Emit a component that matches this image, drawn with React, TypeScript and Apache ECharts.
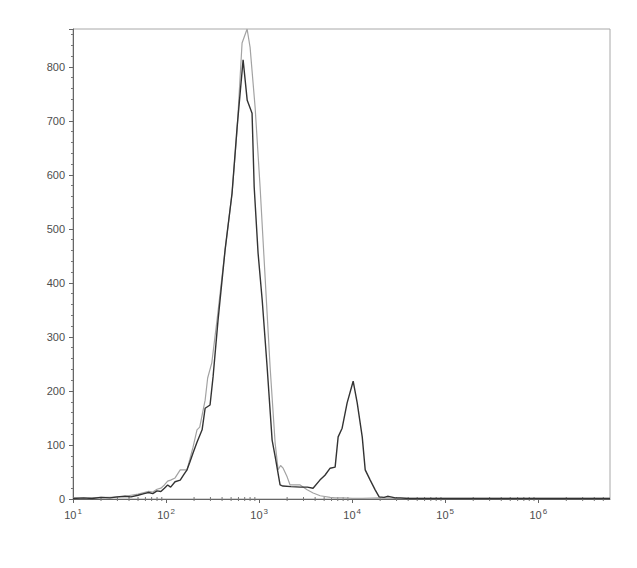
import React, { useEffect, useRef } from "react";
import * as echarts from "echarts";

// Black histogram (sample): [fluorescence, count]
const blackX = [10, 13, 16, 20, 25, 30, 36, 42, 50, 58, 65, 72, 80, 88, 96, 104, 112, 125, 142, 155, 168, 180, 195, 215, 244, 263, 297, 320, 362, 431, 512, 580, 673, 745, 840, 885, 975, 1080, 1220, 1380, 1490, 1680, 1800, 2200, 2800, 3300, 3800, 4500, 5100, 5800, 6560, 7070, 7800, 8830, 10250, 11330, 12830, 13810, 15630, 17670, 19500, 22000, 24000, 26000, 29000, 33000, 40000, 60000, 100000, 300000, 1000000, 3000000, 5900000];
const blackY = [1, 2, 1, 3, 2, 4, 5, 4, 7, 10, 12, 10, 15, 14, 20, 26, 22, 32, 35, 45, 54, 68, 85, 105, 128, 168, 174, 226, 331, 461, 566, 688, 813, 738, 714, 578, 455, 368, 244, 109, 78, 26, 24, 23, 22, 22, 20, 35, 44, 57, 59, 115, 131, 178, 218, 178, 115, 54, 35, 17, 4, 3, 5, 4, 2, 2, 1, 1, 1, 1, 1, 1, 1];

// Gray histogram (control)
const grayX = [10, 13, 16, 20, 25, 30, 36, 42, 50, 58, 65, 72, 80, 88, 96, 104, 112, 125, 142, 168, 195, 215, 230, 263, 280, 310, 353, 431, 512, 580, 656, 743, 800, 906, 1025, 1219, 1313, 1486, 1601, 1700, 1812, 2000, 2153, 2760, 3283, 3808, 4530, 5800, 6560, 8000, 10000, 13000, 20000, 30000, 100000, 1000000, 5900000];
const grayY = [2, 1, 2, 3, 3, 4, 5, 7, 9, 12, 14, 13, 18, 20, 26, 33, 35, 39, 54, 54, 96, 128, 133, 183, 224, 252, 331, 461, 566, 683, 844, 870, 836, 725, 577, 344, 244, 104, 54, 62, 57, 41, 26, 26, 17, 11, 6, 3, 2, 2, 1, 1, 2, 1, 1, 1, 1];

const xMin = 10;
const xMax = 5900000;
const yMax = 870;
const decades = [1, 2, 3, 4, 5, 6];
const minorMultipliers = [2, 3, 4, 5, 6, 7, 8, 9];

export default function App() {
  const ref = useRef<HTMLDivElement>(null);
  useEffect(() => {
    if (!ref.current) return;
    const chart = echarts.init(ref.current, null, { renderer: "svg" });
    const minorTicks: number[][] = [];
    decades.forEach((d) => {
      minorMultipliers.forEach((m) => {
        const v = m * Math.pow(10, d);
        if (v < xMax) minorTicks.push([v, 0]);
      });
    });
    const font = "Liberation Sans, Arial, sans-serif";
    const txt = "#4d4d4d";
    chart.setOption({
      animation: false,
      backgroundColor: "#fff",
      grid: {
        left: 73,
        right: 27,
        top: 29,
        bottom: 69,
        show: true,
        borderColor: "#a8a8a8",
        borderWidth: 1,
        backgroundColor: "transparent",
      },
      xAxis: {
        type: "log",
        logBase: 10,
        min: xMin,
        max: xMax,
        axisLine: { lineStyle: { color: "#666", width: 1 } },
        axisTick: { show: true, length: 4, lineStyle: { color: "#666" } },
        splitLine: { show: false },
        axisLabel: {
          showMaxLabel: false,
          margin: 8,
          color: txt,
          fontFamily: font,
          formatter: (v: number) => {
            const e = Math.log10(v);
            if (Math.abs(e - Math.round(e)) > 1e-6) return "";
            return `{b|10}{s|${Math.round(e)}}`;
          },
          rich: {
            b: { fontSize: 11, color: txt, fontFamily: font },
            s: { fontSize: 8, color: txt, fontFamily: font, padding: [0, 0, 8, 1] },
          },
        },
      },
      yAxis: {
        type: "value",
        min: 0,
        max: yMax,
        interval: 100,
        axisLine: { show: true, lineStyle: { color: "#666", width: 1 } },
        axisTick: { show: true, length: 4, lineStyle: { color: "#666" } },
        minorTick: { show: true, splitNumber: 5, length: 2, lineStyle: { color: "#777" } },
        splitLine: { show: false },
        axisLabel: { showMaxLabel: false, color: txt, fontSize: 11, fontFamily: font, margin: 8 },
      },
      series: [
        {
          type: "custom",
          silent: true,
          clip: false,
          data: minorTicks,
          encode: { x: 0, y: 1 },
          renderItem: (params: any, api: any) => {
            const p = api.coord([api.value(0), 0]);
            return {
              type: "line",
              shape: { x1: p[0], y1: p[1] - 2, x2: p[0], y2: p[1] + 2 },
              style: { stroke: "#777", lineWidth: 1 },
            };
          },
          z: 1,
        },
        {
          type: "line",
          data: grayX.map((x, i) => [x, grayY[i]]),
          showSymbol: false,
          lineStyle: { color: "#a3a3a3", width: 1.2 },
          z: 2,
        },
        {
          type: "line",
          data: blackX.map((x, i) => [x, blackY[i]]),
          showSymbol: false,
          lineStyle: { color: "#333333", width: 1.4 },
          z: 3,
        },
      ],
    });
    return () => chart.dispose();
  }, []);
  return (
    <div
      ref={ref}
      style={{ position: "fixed", left: 0, top: 0, width: 637, height: 568 }}
    />
  );
}
